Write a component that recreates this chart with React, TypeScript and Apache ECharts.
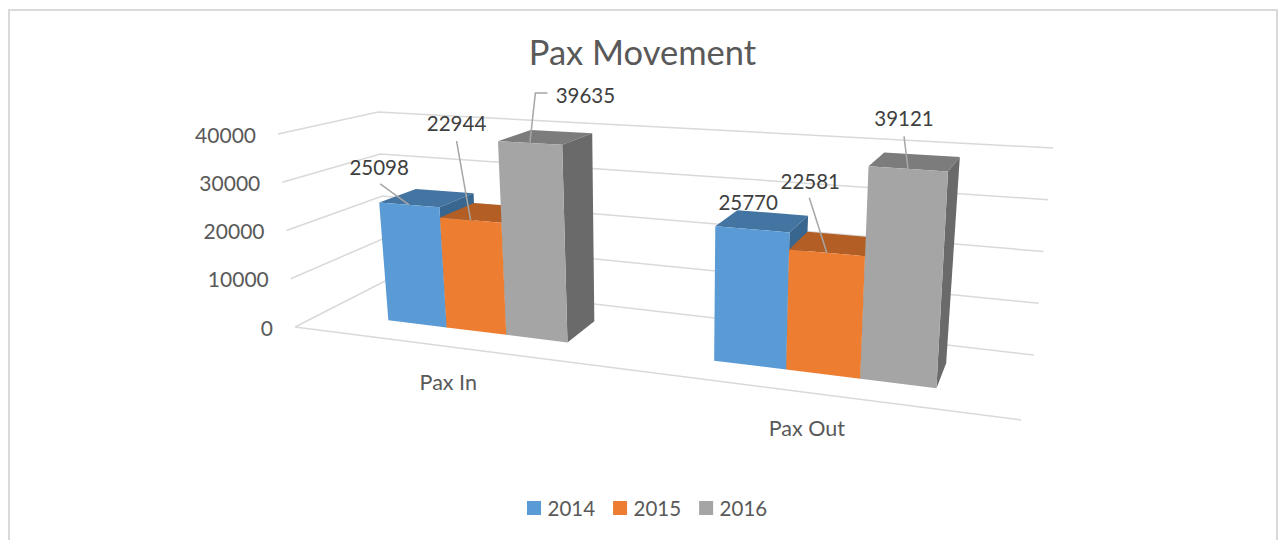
import React, { useEffect, useRef } from "react";
import * as echarts from "echarts";

const categories = ["Pax In", "Pax Out"];
const years = ["2014", "2015", "2016"];
const values2014 = [25098, 25770];
const values2015 = [22944, 22581];
const values2016 = [39635, 39121];
const tickValues = [0, 10000, 20000, 30000, 40000];

const seriesValues = [values2014, values2015, values2016];
const frontColors = ["#5B9BD5", "#ED7D31", "#A5A5A5"];
const topColors = ["#4475A2", "#B25E24", "#7C7C7C"];
const sideColors = ["#39668F", "#9E5420", "#6A6A6A"];

const FONT = "Lato, Carlito, 'Open Sans', sans-serif";

// Perspective calibration of the floor and of the vertical direction
const floorFL = [295, 327], floorFR = [1021, 420], floorBR = [1034, 355], floorBL = [387, 280];
const wallUp = { fl: [-17, -193], fr: [14.2, -237], br: [19, -207], bl: [-9, -168] };
const barUp = { fl: [-21, -189.5], fr: [14.2, -234.5], br: [19, -207], bl: [-11, -167] };

const g0 = (() => {
  const [x0, y0] = floorFL, [x1, y1] = floorFR, [x2, y2] = floorBR, [x3, y3] = floorBL;
  const dx1 = x1 - x2, dx2 = x3 - x2, sx = x0 - x1 + x2 - x3;
  const dy1 = y1 - y2, dy2 = y3 - y2, sy = y0 - y1 + y2 - y3;
  const den = dx1 * dy2 - dx2 * dy1;
  const g = (sx * dy2 - dx2 * sy) / den;
  const h = (dx1 * sy - sx * dy1) / den;
  return { a: x1 - x0 + g * x1, b: x3 - x0 + h * x3, c: x0, d: y1 - y0 + g * y1, e: y3 - y0 + h * y3, f: y0, g, h };
})();

function project(u: number, v: number, hn: number, up: any = wallUp): number[] {
  const w = 1 + g0.g * u + g0.h * v;
  const fx = (g0.a * u + g0.b * v + g0.c) / w;
  const fy = (g0.d * u + g0.e * v + g0.f) / w;
  const mix = (i: number) =>
    (1 - v) * ((1 - u) * up.fl[i] + u * up.fr[i]) + v * ((1 - u) * up.bl[i] + u * up.br[i]);
  return [fx + hn * mix(0), fy + hn * mix(1)];
}

// Hidden cartesian grid: the library's scales give the band centre and the value fraction
const GRID = { left: 100, top: 100, width: 1000, height: 400 };
function normalise(api: any, cat: number, val: number) {
  const c = api.coord([cat, val]);
  return { u: (c[0] - GRID.left) / GRID.width, hn: (GRID.top + GRID.height - c[1]) / GRID.height };
}

const bandNudge = [-0.0085, -0.011];
const barSpan = [0.0917, 0.0993];
const depthFront = 0.29;
const depthBack = 0.69;

function barU(api: any, cat: number, val: number, s: number) {
  const { u, hn } = normalise(api, cat, val);
  const start = u + bandNudge[cat] - 1.5 * barSpan[cat] + s * barSpan[cat];
  return { u0: start, u1: start + barSpan[cat], hn };
}

// label centre relative to the bar's front-top centre: series -> category
const labelOffsets = [
  [[-30, -38], [-4, -27]],
  [[-14, -97], [-16.5, -72]],
  [[55.5, -48], [-4, -50.5]],
];
// leader start relative to label centre, optional elbow; null = no leader
const leaderStarts: any[][] = [
  [[[1, 17]], null],
  [[[0, 18]], [[-1, 17]]],
  [[[-38, -2], [-50, -2]], [[0, 18]]],
];
const categoryLabelDx = [-9.5, -12.5];

const gridColor = "#D9D9D9";

function renderBar(s: number) {
  return (_: any, api: any) => {
    const cat = api.value(0);
    const val = api.value(1);
    const { u0, u1, hn } = barU(api, cat, val, s);
    const p = (u: number, v: number, h: number) => project(u, v, h, barUp);
    return {
      type: "group",
      children: [
        { type: "polygon", shape: { points: [p(u0, depthFront, hn), p(u1, depthFront, hn), p(u1, depthBack, hn), p(u0, depthBack, hn)] }, style: { fill: topColors[s] } },
        { type: "polygon", shape: { points: [p(u1, depthFront, 0), p(u1, depthBack, 0), p(u1, depthBack, hn), p(u1, depthFront, hn)] }, style: { fill: sideColors[s] } },
        { type: "polygon", shape: { points: [p(u0, depthFront, 0), p(u1, depthFront, 0), p(u1, depthFront, hn), p(u0, depthFront, hn)] }, style: { fill: frontColors[s] } },
      ],
    };
  };
}

function renderGrid(_: any, api: any) {
  const val = api.value(1);
  const { hn } = normalise(api, 0, val);
  const fl = project(0, 0, hn), bl = project(0, 1, hn), br = project(1, 1, hn);
  const children: any[] = [
    { type: "polyline", shape: { points: [fl, bl, br] }, style: { stroke: gridColor, lineWidth: 1.5, fill: "none" } },
    { type: "text", style: { x: fl[0] - 22, y: fl[1], text: String(val), fill: "#595959", fontSize: 21, fontFamily: FONT, align: "right", verticalAlign: "middle" } },
  ];
  if (val === 0) {
    children.push({ type: "line", shape: { x1: fl[0], y1: fl[1], x2: project(1, 0, 0)[0], y2: project(1, 0, 0)[1] }, style: { stroke: gridColor, lineWidth: 1.5 } });
  }
  return { type: "group", children };
}

function renderCategory(_: any, api: any) {
  const cat = api.value(0);
  const { u } = normalise(api, cat, 0);
  const pt = project(u, 0, 0);
  return { type: "text", style: { x: pt[0] + categoryLabelDx[cat], y: pt[1] + 34, text: categories[cat], fill: "#595959", fontSize: 21.5, fontFamily: FONT, align: "center", verticalAlign: "middle" } };
}

function renderLabel(_: any, api: any) {
  const cat = api.value(0);
  const val = api.value(1);
  const s = api.value(2);
  const { u0, u1, hn } = barU(api, cat, val, s);
  const anchor = project((u0 + u1) / 2, depthFront, hn, barUp);
  const off = labelOffsets[s][cat];
  const cx = anchor[0] + off[0], cy = anchor[1] + off[1];
  const children: any[] = [];
  const lead = leaderStarts[s][cat];
  if (lead) {
    const pts = lead.map((q: number[]) => [cx + q[0], cy + q[1]]);
    pts.push(anchor);
    children.push({ type: "polyline", shape: { points: pts }, style: { stroke: "#A6A6A6", lineWidth: 1.5, fill: "none" } });
  }
  children.push({ type: "text", style: { x: cx, y: cy, text: String(val), fill: "#404040", fontSize: 20.5, fontFamily: FONT, align: "center", verticalAlign: "middle" } });
  return { type: "group", children };
}

export default function App() {
  const ref = useRef<HTMLDivElement>(null);
  useEffect(() => {
    const chart = echarts.init(ref.current!, undefined, { renderer: "svg" });
    const labelData: number[][] = [];
    seriesValues.forEach((vals, s) => vals.forEach((v, c) => labelData.push([c, v, s])));
    chart.setOption({
      animation: false,
      backgroundColor: "#FFFFFF",
      title: {
        text: "Pax Movement",
        left: 637.5,
        top: 29,
        textAlign: "center",
        textStyle: { color: "#595959", fontSize: 34.5, fontWeight: "normal", fontFamily: FONT },
      },
      graphic: [
        { type: "rect", shape: { x: 9, y: 10, width: 1268, height: 540 }, style: { fill: "none", stroke: gridColor, lineWidth: 2 }, silent: true },
      ],
      legend: {
        data: years,
        left: 522,
        top: 492.5,
        itemWidth: 14,
        itemHeight: 14,
        itemGap: 18,
        icon: "rect",
        textStyle: { color: "#595959", fontSize: 20.5, fontFamily: FONT, padding: [0, 0, 0, 1.5] },
      },
      grid: { ...GRID, show: false },
      xAxis: { type: "category", data: categories, show: false },
      yAxis: { type: "value", min: 0, max: 40000, interval: 10000, show: false },
      series: [
        { type: "custom", name: "gridlines", silent: true, renderItem: renderGrid, encode: { x: 0, y: 1 }, data: tickValues.map((t) => [0, t]) },
        { type: "custom", name: "categories", silent: true, renderItem: renderCategory, encode: { x: 0, y: 1 }, data: categories.map((_, i) => [i, 0]) },
        ...years.map((y, s) => ({
          type: "custom",
          name: y,
          silent: true,
          itemStyle: { color: frontColors[s] },
          renderItem: renderBar(s),
          encode: { x: 0, y: 1 },
          data: seriesValues[s].map((v, c) => [c, v]),
        })),
        { type: "custom", name: "labels", silent: true, renderItem: renderLabel, encode: { x: 0, y: 1 }, data: labelData },
      ],
    });
    return () => chart.dispose();
  }, []);
  return <div ref={ref} style={{ position: "absolute", left: 0, top: 0, width: 1280, height: 540 }} />;
}
